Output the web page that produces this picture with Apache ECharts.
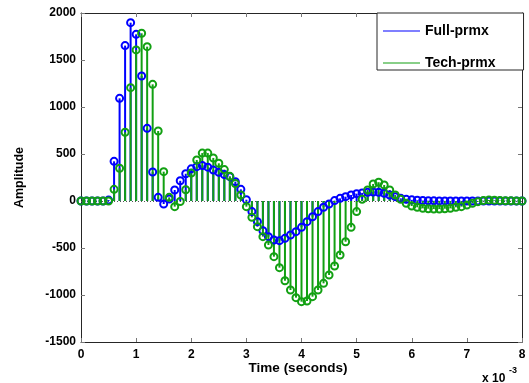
<!DOCTYPE html>
<html>
<head>
<meta charset="utf-8">
<script src="https://cdn.jsdelivr.net/npm/echarts@6/dist/echarts.min.js"></script>
<style>
html,body{margin:0;padding:0;background:#fff;}
#chart{width:529px;height:383px;}
</style>
</head>
<body>
<div id="chart"></div>
<script>
// Time in units of 10^-3 seconds
const timeMs = [0,0.1,0.2,0.3,0.4,0.5,0.6,0.7,0.8,0.9,1.0,1.1,1.2,1.3,1.4,1.5,1.6,1.7,1.8,1.9,
2.0,2.1,2.2,2.3,2.4,2.5,2.6,2.7,2.8,2.9,3.0,3.1,3.2,3.3,3.4,3.5,3.6,3.7,3.8,3.9,
4.0,4.1,4.2,4.3,4.4,4.5,4.6,4.7,4.8,4.9,5.0,5.1,5.2,5.3,5.4,5.5,5.6,5.7,5.8,5.9,
6.0,6.1,6.2,6.3,6.4,6.5,6.6,6.7,6.8,6.9,7.0,7.1,7.2,7.3,7.4,7.5,7.6,7.7,7.8,7.9,8.0];

const fullPrmx = [0,0,0,0,0,10,422,1092,1653,1897,1773,1330,773,308,39,-32,20,117,215,290,
342,365,378,360,330,306,282,259,206,124,14,-113,-220,-316,-379,-415,-422,-397,-362,-326,
-280,-220,-167,-113,-67,-32,4,28,46,64,78,86,92,96,92,82,64,46,28,18,
12,8,5,3,2,1,1,0,0,0,0,0,0,0,0,0,0,0,0,0,0];

const techPrmx = [0,0,0,0,0,0,124,348,731,1206,1607,1784,1642,1241,745,312,39,-60,-5,120,
298,436,510,510,458,401,334,262,185,64,-60,-174,-273,-379,-468,-592,-709,-848,-947,-1028,
-1071,-1064,-1018,-947,-876,-787,-692,-575,-433,-280,-113,18,117,181,200,170,117,64,18,-25,
-53,-67,-78,-82,-85,-85,-82,-78,-67,-60,-42,-25,-7,4,11,8,5,3,2,1,0];

const xTicks = [0,1,2,3,4,5,6,7,8];
const yTicks = [-1500,-1000,-500,0,500,1000,1500,2000];
const seriesNames = ['Full-prmx','Tech-prmx'];

const BLUE = '#0000ff';
const GREEN = '#12a012';
const COLORS = [BLUE, GREEN];

function pairs(vals){ return timeMs.map((t,i)=>[t, vals[i]]); }

function stemSeries(name, vals, color, z){
  return {
    name: name,
    type: 'custom',
    z: z,
    silent: true,
    itemStyle: {color: color},
    data: pairs(vals),
    renderItem: function(params, api){
      const x = api.value(0), y = api.value(1);
      const p0 = api.coord([x, 0]);
      const p1 = api.coord([x, y]);
      return {type:'line', shape:{x1:p0[0], y1:p0[1], x2:p1[0], y2:p1[1]},
              style:{stroke: color, lineWidth: 2}};
    }
  };
}
function markerSeries(name, vals, color, z){
  return {
    name: name + ' markers',
    type: 'scatter',
    z: z,
    silent: true,
    symbol: 'circle',
    symbolSize: 7,
    itemStyle: {color: 'rgba(0,0,0,0)', borderColor: color, borderWidth: 2, opacity: 1},
    data: pairs(vals)
  };
}

const chart = echarts.init(document.getElementById('chart'), null, {renderer:'canvas'});
const axisCol = '#262626';
const font = 'Liberation Sans, Arial, Helvetica, sans-serif';

const baseAxisY = {
  type: 'value', min: -1500, max: 2000, interval: 500,
  axisLine: {show: true, onZero: false, lineStyle: {color: axisCol, width: 1}},
  axisTick: {show: true, inside: true, length: 4, lineStyle: {color: '#777'}},
  splitLine: {show: false}
};
const baseAxisX = {
  type: 'value', min: 0, max: 8, interval: 1,
  axisLine: {show: true, onZero: false, lineStyle: {color: axisCol, width: 1}},
  axisTick: {show: true, inside: true, length: 4, lineStyle: {color: '#777'}},
  splitLine: {show: false}
};

const s1 = stemSeries(seriesNames[0], fullPrmx, BLUE, 2);
s1.markLine = {
  silent: true, symbol: 'none', z: 1,
  label: {show: false},
  lineStyle: {color: '#555', type: [1,2], width: 1},
  data: [[{coord:[0,0]},{coord:[8,0]}]]
};

chart.setOption({
  animation: false,
  backgroundColor: '#fff',
  textStyle: {fontFamily: font},
  grid: {left: 81, right: 7, top: 13, bottom: 41, containLabel: false},
  xAxis: [
    Object.assign({}, baseAxisX, {
      position: 'bottom',
      axisLabel: {show: true, color: '#000', fontSize: 12, fontWeight: 'bold', fontFamily: font, margin: 7,
                  formatter: v => xTicks.indexOf(v) >= 0 ? String(v) : ''},
      name: 'Time (seconds)', nameLocation: 'middle', nameGap: 19, nameMoveOverlap: false,
      nameTextStyle: {color: '#000', fontSize: 13.5, fontWeight: 'bold', fontFamily: font, padding:[0,7,0,0]}
    }),
    Object.assign({}, baseAxisX, {position: 'top', axisLabel: {show: false}})
  ],
  yAxis: [
    Object.assign({}, baseAxisY, {
      position: 'left',
      axisLabel: {show: true, color: '#000', fontSize: 12, fontWeight: 'bold', fontFamily: font, margin: 5,
                  formatter: v => yTicks.indexOf(v) >= 0 ? String(v) : ''},
      name: 'Amplitude', nameLocation: 'middle', nameGap: 55, nameRotate: 90,
      nameTextStyle: {color: '#000', fontSize: 12.5, fontWeight: 'bold', fontFamily: font}
    }),
    Object.assign({}, baseAxisY, {position: 'right', axisLabel: {show: false}})
  ],
  legend: {
    show: true,
    data: seriesNames.map((n,i) => ({name: n, icon: 'rect', itemStyle: {color: COLORS[i]}})),
    orient: 'vertical',
    left: 377, top: 13,
    itemWidth: 37, itemHeight: 1, itemGap: 18,
    padding: [11, 28, 0, 6],
    backgroundColor: '#fff',
    borderColor: axisCol, borderWidth: 1, borderRadius: 0,
    textStyle: {color: '#000', fontSize: 14, fontWeight: 'bold', fontFamily: font, padding: [0,0,0,0]}
  },
  graphic: [
    {type: 'text', left: 482, top: 373, silent: true,
     style: {text: 'x 10', fontSize: 12, fontWeight: 'bold', fontFamily: font, fill: '#000'}},
    {type: 'text', left: 509, top: 366, silent: true,
     style: {text: '-3', fontSize: 9, fontWeight: 'bold', fontFamily: font, fill: '#000'}}
  ],
  series: [
    s1,
    stemSeries(seriesNames[1], techPrmx, GREEN, 3),
    markerSeries(seriesNames[0], fullPrmx, BLUE, 4),
    markerSeries(seriesNames[1], techPrmx, GREEN, 5)
  ]
});
</script>
</body>
</html>
